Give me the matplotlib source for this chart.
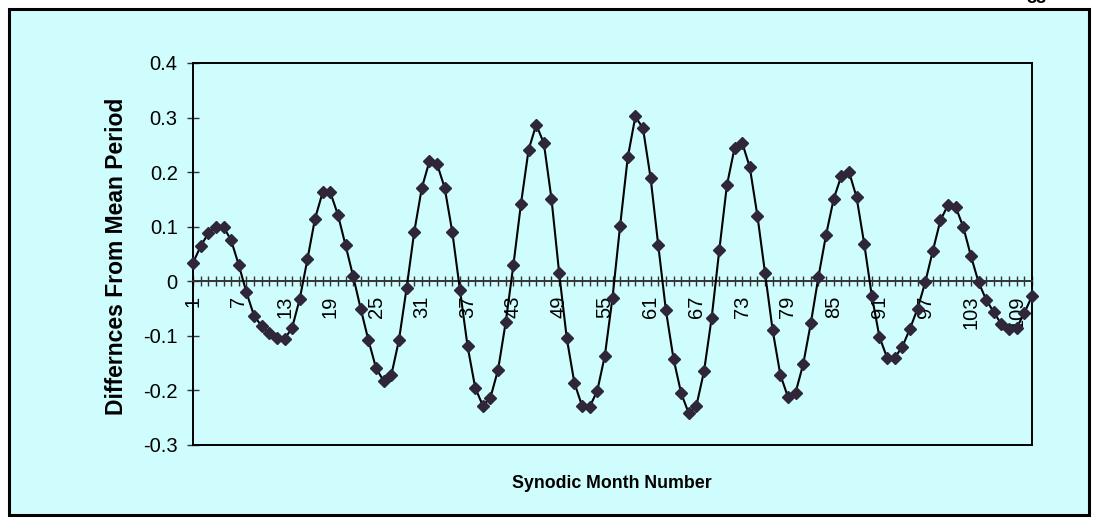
import numpy as np
import matplotlib
matplotlib.use("Agg")
import matplotlib.pyplot as plt
from matplotlib.patches import Rectangle
from matplotlib.ticker import FixedLocator

# ---------------- data ----------------
months = list(range(1, 112))
differences = [
    0.034, 0.064, 0.088, 0.100, 0.100, 0.075, 0.030, -0.020, -0.063, -0.082,
    -0.095, -0.104, -0.106, -0.085, -0.032, 0.040, 0.115, 0.163, 0.163, 0.122,
    0.066, 0.009, -0.051, -0.108, -0.159, -0.183, -0.172, -0.108, -0.013, 0.090,
    0.171, 0.220, 0.215, 0.171, 0.090, -0.016, -0.119, -0.195, -0.228, -0.213,
    -0.162, -0.075, 0.029, 0.142, 0.241, 0.287, 0.253, 0.151, 0.016, -0.104,
    -0.186, -0.228, -0.230, -0.201, -0.136, -0.030, 0.102, 0.227, 0.302, 0.280,
    0.189, 0.066, -0.053, -0.142, -0.205, -0.242, -0.228, -0.165, -0.067, 0.057,
    0.176, 0.244, 0.254, 0.209, 0.120, 0.015, -0.090, -0.171, -0.212, -0.204,
    -0.152, -0.077, 0.008, 0.085, 0.151, 0.193, 0.201, 0.154, 0.069, -0.027,
    -0.102, -0.140, -0.140, -0.120, -0.087, -0.050, -0.002, 0.056, 0.112, 0.140,
    0.136, 0.099, 0.046, -0.002, -0.034, -0.057, -0.079, -0.088, -0.085, -0.058,
    -0.027,
]
y_ticks = [0.4, 0.3, 0.2, 0.1, 0.0, -0.1, -0.2, -0.3]
y_tick_labels = ["0.4", "0.3", "0.2", "0.1", "0", "-0.1", "-0.2", "-0.3"]
x_tick_months = [1, 7, 13, 19, 25, 31, 37, 43, 49, 55, 61, 67, 73, 79, 85, 91, 97, 103, 109]
x_tick_labels = [str(m) for m in x_tick_months]
x_title = "Synodic Month Number"
y_title = "Differnces From Mean Period"
page_number = "88"

# ---------------- style ----------------
plt.rcParams['font.family'] = ['Liberation Sans', 'DejaVu Sans']
W, H = 1097, 522
bg = '#cffcfc'
marker_col = '#2f2739'

fig = plt.figure(figsize=(W / 100, H / 100), dpi=100, facecolor='white')
fig.patches.append(Rectangle((9 / W, 1 - 515 / H), (1089 - 9) / W, (515 - 9) / H,
                             transform=fig.transFigure, facecolor=bg,
                             edgecolor='black', lw=2.2, zorder=-5))

ax = fig.add_axes([193 / W, 1 - 445 / H, (1032 - 193) / W, (445 - 63) / H])
ax.set_zorder(2)
ax.set_facecolor(bg)

ax.plot(months, differences, color='black', lw=1.5, marker='D', ms=6.2,
        mfc=marker_col, mec=marker_col, zorder=3, clip_on=False)

ax.set_xlim(months[0], months[-1])
ax.set_ylim(y_ticks[-1], y_ticks[0])

for s in ['top', 'left', 'right']:
    ax.spines[s].set_linewidth(1.4)
    ax.spines[s].set_color('black')
ax.spines['bottom'].set_position(('data', 0))
ax.spines['bottom'].set_linewidth(1.4)
ax.spines['bottom'].set_color('#333333')
ax.axhline(y_ticks[-1], color='black', lw=1.4, clip_on=False, zorder=2)

ax.xaxis.set_major_locator(FixedLocator(x_tick_months))
ax.xaxis.set_minor_locator(FixedLocator(months))
ax.set_xticklabels(x_tick_labels, rotation=90, fontsize=14.5)
ax.tick_params(axis='x', which='both', direction='inout', length=7, width=1,
               color='#333333', pad=7)

ax.set_yticks(y_ticks)
ax.set_yticklabels(y_tick_labels, fontsize=14.5)
ax.tick_params(axis='y', which='major', direction='inout', length=8, width=1,
               color='#333333', pad=7)

fig.text(612 / W, 1 - 483 / H, x_title, fontsize=12.8, fontweight='bold',
         ha='center', va='center')
fig.text(117 / W, 1 - 256 / H, y_title, fontsize=16.5, fontweight='bold',
         ha='center', va='center', rotation=90)
fig.text(1036 / W, 1 - 3 / H, page_number, fontsize=13, fontweight='bold',
         ha='center', va='baseline')

fig.savefig('out.png', dpi=100, facecolor='white')
